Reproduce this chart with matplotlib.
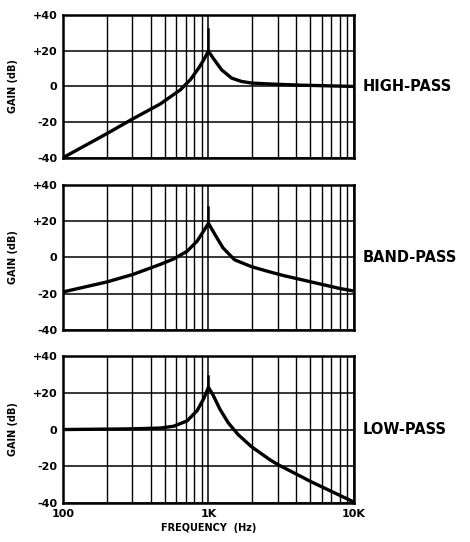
import matplotlib
matplotlib.use("Agg")
import matplotlib.pyplot as plt
from matplotlib.ticker import NullFormatter, FixedLocator

# values (frequency in Hz, gain in dB)
hp_freq = [100, 200, 290, 340, 467, 641, 751, 857, 929, 1000,
           1077, 1229, 1442, 1690, 1980, 2600, 4400, 10000]
hp_gain = [-40, -26.5, -19, -15.9, -9.8, -1.9, 3.8, 10.3, 15, 19.8,
           15.9, 9.4, 4.7, 2.8, 1.9, 1.4, 0.7, 0]

bp_freq = [100, 200, 304, 467, 577, 713, 836, 929, 1000,
           1105, 1258, 1512, 1980, 2650, 3290, 5100, 7900, 10000]
bp_gain = [-19, -13.5, -9.3, -3.8, -0.8, 3.4, 9, 14.7, 18.8,
           12.8, 5.3, -1.3, -5.1, -8.0, -10, -13.5, -17, -18.5]

lp_freq = [100, 250, 340, 467, 577, 713, 836, 929, 1000,
           1077, 1197, 1367, 1602, 1980, 2650, 3020, 5100, 10000]
lp_gain = [0, 0.3, 0.5, 0.8, 1.8, 4.7, 10.3, 16.9, 23,
           18.7, 11.2, 3.7, -2.8, -9.4, -16.5, -19.2, -28.5, -39.5]

# thin resonance spike at 1K: (base, top)
spikes = [(19.8, 32), (18.8, 28), (23, 29)]

names = ["HIGH-PASS", "BAND-PASS", "LOW-PASS"]
yticks = [-40, -20, 0, 20, 40]
ytick_labels = ["-40", "-20", "0", "+20", "+40"]
xticks = [100, 1000, 10000]
xtick_labels = ["100", "1K", "10K"]

fig = plt.figure(figsize=(4.70, 5.42), dpi=100)
positions = [
    [0.134, 0.709, 0.619, 0.263],
    [0.134, 0.391, 0.619, 0.268],
    [0.134, 0.072, 0.619, 0.271],
]
curves = [(hp_freq, hp_gain), (bp_freq, bp_gain), (lp_freq, lp_gain)]

minor = [m * d for d in (100, 1000) for m in range(2, 10)]

for i, (pos, (f, g), name, sp) in enumerate(zip(positions, curves, names, spikes)):
    ax = fig.add_axes(pos)
    ax.set_xscale("log")
    ax.set_xlim(100, 10000)
    ax.set_ylim(-40, 40)

    ax.xaxis.set_major_locator(FixedLocator(xticks))
    ax.xaxis.set_minor_locator(FixedLocator(minor))
    ax.xaxis.set_minor_formatter(NullFormatter())
    ax.set_yticks(yticks)
    ax.set_yticklabels(ytick_labels, fontsize=8, fontweight="bold")
    if i == 2:
        ax.set_xticklabels(xtick_labels, fontsize=8, fontweight="bold")
        ax.set_xlabel("FREQUENCY  (Hz)", fontsize=7, fontweight="bold", labelpad=3)
    else:
        ax.set_xticklabels([])

    ax.tick_params(which="both", length=0, pad=4)
    ax.grid(True, which="major", color="black", lw=1.1)
    ax.grid(True, which="minor", axis="x", color="black", lw=1.0)
    for s in ax.spines.values():
        s.set_linewidth(1.8)

    ax.plot(f, g, color="black", lw=2.4, solid_capstyle="round",
            solid_joinstyle="round", zorder=5)
    ax.plot([1000, 1000], sp, color="black", lw=1.8, zorder=5)

    ax.set_ylabel("GAIN (dB)", fontsize=7, fontweight="bold")
    ax.yaxis.set_label_coords(-0.155, 0.5)

    ax.text(1.03, 0, name, transform=ax.get_yaxis_transform(),
            fontsize=10.5, fontweight="bold", va="center", ha="left")

fig.savefig("out.png", dpi=100)
